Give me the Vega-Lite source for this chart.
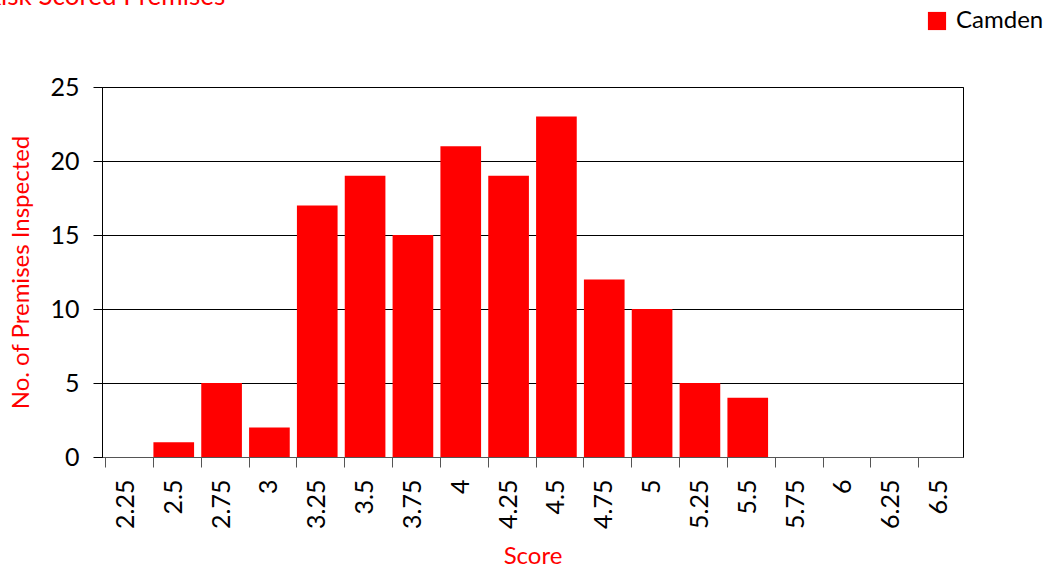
{
  "$schema": "https://vega.github.io/schema/vega-lite/v6.json",
  "autosize": "none",
  "width": 861,
  "height": 370,
  "padding": {"left": 102, "top": 87, "right": 85, "bottom": 111},
  "background": "white",
  "config": {
    "font": "Lato",
    "view": {"stroke": "black", "strokeWidth": 1}
  },
  "title": {
    "text": "Risk Scored Premises",
    "anchor": "start",
    "frame": "group",
    "color": "#ff0000",
    "fontSize": 26,
    "fontWeight": "normal",
    "dx": -117,
    "dy": 5
  },
  "data": {
    "values": [
      {"Score": "2.25", "Count": 0, "Area": "Camden"},
      {"Score": "2.5", "Count": 1, "Area": "Camden"},
      {"Score": "2.75", "Count": 5, "Area": "Camden"},
      {"Score": "3", "Count": 2, "Area": "Camden"},
      {"Score": "3.25", "Count": 17, "Area": "Camden"},
      {"Score": "3.5", "Count": 19, "Area": "Camden"},
      {"Score": "3.75", "Count": 15, "Area": "Camden"},
      {"Score": "4", "Count": 21, "Area": "Camden"},
      {"Score": "4.25", "Count": 19, "Area": "Camden"},
      {"Score": "4.5", "Count": 23, "Area": "Camden"},
      {"Score": "4.75", "Count": 12, "Area": "Camden"},
      {"Score": "5", "Count": 10, "Area": "Camden"},
      {"Score": "5.25", "Count": 5, "Area": "Camden"},
      {"Score": "5.5", "Count": 4, "Area": "Camden"},
      {"Score": "5.75", "Count": 0, "Area": "Camden"},
      {"Score": "6", "Count": 0, "Area": "Camden"},
      {"Score": "6.25", "Count": 0, "Area": "Camden"},
      {"Score": "6.5", "Count": 0, "Area": "Camden"}
    ]
  },
  "mark": {"type": "bar"},
  "encoding": {
    "x": {
      "field": "Score",
      "type": "ordinal",
      "sort": null,
      "scale": {"paddingInner": 0.15, "paddingOuter": 0.075},
      "axis": {
        "title": "Score",
        "titleColor": "#ff0000",
        "titleFontSize": 24,
        "titleFontWeight": "normal",
        "titlePadding": 16,
        "labelAngle": 270,
        "labelAlign": "right",
        "labelBaseline": "middle",
        "labelFontSize": 25,
        "labelColor": "black",
        "labelPadding": 12,
        "bandPosition": 0,
        "tickSize": 10,
        "tickColor": "#555555",
        "domainColor": "#555555",
        "grid": false
      }
    },
    "y": {
      "field": "Count",
      "type": "quantitative",
      "scale": {"domain": [0, 25]},
      "axis": {
        "title": "No. of Premises Inspected",
        "titleColor": "#ff0000",
        "titleFontSize": 24,
        "titleFontWeight": "normal",
        "titlePadding": 16,
        "values": [0, 5, 10, 15, 20, 25],
        "labelFontSize": 25,
        "labelColor": "black",
        "labelPadding": 14,
        "tickSize": 9,
        "tickColor": "black",
        "domainColor": "black",
        "grid": true,
        "gridColor": "black",
        "gridOpacity": 1
      }
    },
    "color": {
      "field": "Area",
      "type": "nominal",
      "scale": {"range": ["#ff0000"]},
      "legend": {
        "title": null,
        "orient": "none",
        "legendX": 823,
        "legendY": -78,
        "symbolType": "square",
        "symbolSize": 330,
        "symbolOpacity": 1,
        "labelFontSize": 24,
        "labelColor": "black",
        "labelOffset": 7
      }
    }
  }
}
